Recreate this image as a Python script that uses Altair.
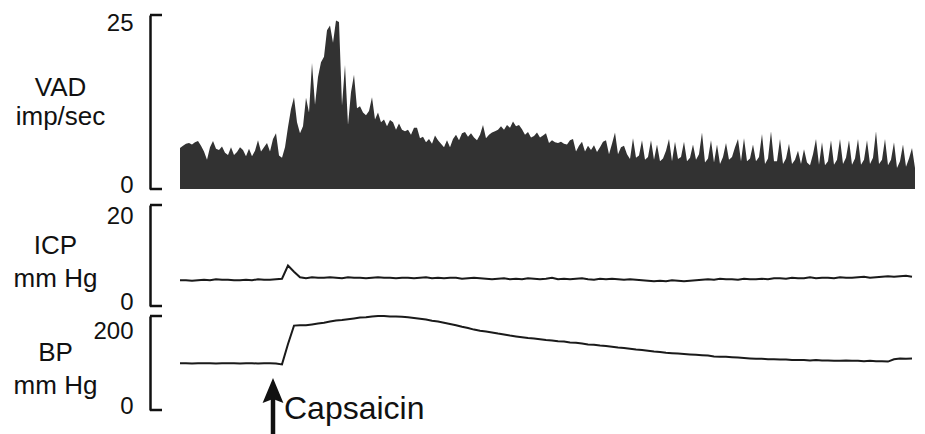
import altair as alt
import pandas as pd

FONT = "Liberation Sans"
INK = "#111111"

# ---- VAD (imp/sec), one sample per time unit ----
VAD = [
    5.9, 6.2, 6.5, 6.6, 6.4, 6.7, 6.9, 6.2, 5.4, 4.2, 6.0, 6.9, 5.8, 5.6, 6.1, 5.2, 4.9, 6.0,
    4.9, 5.3, 6.0, 5.6, 4.7, 5.8, 4.7, 5.5, 7.0, 5.4, 6.0, 6.6, 5.4, 7.2, 8.0, 4.8, 4.5,
    6.0, 8.9, 11.5, 13.2, 9.6, 8.0, 9.0, 13.1, 11.0, 18.1, 12.1, 16.1, 18.2, 19.0, 22.8, 23.5,
    21.0, 24.2, 24.0, 12.0, 17.8,
    9.2, 13.9, 16.4, 11.6, 11.9, 11.0, 10.6, 11.2, 13.2, 10.0, 11.0, 9.6, 10.0, 9.0, 9.9, 9.6,
    8.5, 9.4, 8.5, 8.3, 8.5, 7.8, 8.8, 8.8, 7.3, 7.5, 6.7, 7.2, 6.5, 7.7, 7.0, 6.5, 6.0, 7.0,
    6.0, 7.2, 7.8, 7.0, 8.0, 8.2, 7.5,
    8.0, 7.4, 7.0, 7.8, 9.2, 7.3, 7.8, 8.1, 8.3, 8.5, 9.0, 8.5, 9.2, 8.8, 9.7, 9.0, 9.2, 8.6,
    7.8, 8.2, 7.4, 7.6, 8.1, 7.4, 7.7, 8.0, 6.6, 7.0, 6.7, 6.6, 6.8, 6.5, 6.4, 7.0, 7.2, 5.4,
    6.2, 6.8, 5.4, 6.2, 5.6, 6.3, 5.3, 6.0, 6.8, 7.0, 5.0, 6.5, 8.1, 5.0, 6.0, 6.2,
    5.0, 4.3, 7.3, 4.5, 4.8, 7.0, 4.2, 4.6, 7.0, 4.2, 6.4, 4.0, 4.4, 5.5, 7.2, 4.0, 6.8, 4.3,
    4.6, 6.8, 4.0, 4.5, 6.4, 4.2, 5.0, 8.1, 3.8, 4.4, 7.0, 3.8, 6.4, 3.6, 4.6, 6.6, 4.2, 4.6,
    6.0, 7.2, 4.0, 7.3, 4.0, 4.4, 6.4, 4.0, 4.6, 7.9, 3.6, 4.4, 8.3, 4.0,
    4.0, 7.2, 3.6, 4.4, 6.5, 3.6, 4.2, 5.5, 3.6, 5.7, 3.8, 3.4, 5.0, 7.2, 3.5, 6.7, 3.4, 4.0,
    7.0, 3.5, 4.2, 7.2, 3.6, 4.5, 7.0, 3.5, 4.4, 7.2, 3.5, 4.2, 7.0, 3.6, 4.5, 8.3, 3.6, 4.2,
    7.2, 3.4, 4.2, 6.7, 3.0, 4.0, 6.4, 3.2, 4.4, 5.9, 3.0,
]

# ---- ICP and BP (mm Hg), one sample every 2 time units ----
ICP = [
    5.1, 5.1, 5.0, 5.1, 5.2, 5.1, 5.3, 5.2, 5.2, 5.1, 5.1, 5.2, 5.1, 5.3, 5.2, 5.2, 5.3,
    5.4, 8.0, 6.8, 5.7, 5.5,
    5.7, 5.6, 5.6, 5.7, 5.6, 5.5, 5.7, 5.6, 5.6, 5.5, 5.6, 5.7, 5.6, 5.6, 5.5, 5.6, 5.6, 5.5,
    5.6, 5.7, 5.5, 5.6, 5.5, 5.6, 5.6, 5.4, 5.5, 5.6, 5.5,
    5.4, 5.3, 5.4, 5.5, 5.3, 5.4, 5.3, 5.5, 5.4, 5.3, 5.4, 5.6, 5.3, 5.4, 5.3, 5.4, 5.5, 5.3,
    5.2, 5.4, 5.3, 5.4, 5.3, 5.2, 5.3, 5.2,
    5.1, 5.0, 4.9, 5.0, 4.9, 5.1, 5.0, 4.9, 5.0, 5.1,
    5.2, 5.3, 5.2, 5.4, 5.3, 5.3, 5.2, 5.4, 5.3, 5.3, 5.4, 5.3, 5.5,
    5.5, 5.4, 5.6, 5.5, 5.5, 5.7, 5.5, 5.6, 5.6, 5.5, 5.7, 5.6, 5.6, 5.7, 5.8, 5.6, 5.7, 5.8,
    5.9, 5.8, 5.9, 6.0, 5.8,
]

BP = [
    117, 117, 116, 117, 117, 117, 116, 117, 117, 117, 116, 117, 117, 116, 117, 117, 116,
    114, 165, 211, 212, 212, 214, 216, 218, 221, 224, 225, 227, 229, 231, 232, 234, 235,
    235, 234, 234, 233, 232, 230, 228, 226, 223, 221, 218, 215, 212, 208, 205, 201, 198,
    196, 194, 191, 189, 186, 184, 182, 180, 179, 177, 175, 174, 172, 171, 169, 168, 166,
    164, 163, 161, 160, 158, 156, 155, 153, 151, 150, 148, 146, 145, 143, 142, 141, 140,
    139, 138, 137, 136, 134, 133, 133, 132, 131, 130, 129, 128, 128, 127, 127, 126, 126,
    125, 125, 125, 124, 125, 124, 124, 123, 123, 124, 123, 123, 122, 123, 122, 122, 121,
    127, 129, 128, 129,
]

VAD_STEP = 1
LINE_STEP = 2
CAPSAICIN_T = 31
T_DOMAIN = [-10, 246]

VAD_DOMAIN = [0, 25]
ICP_DOMAIN = [0, 20]
BP_DOMAIN = [0, 235]
VAD_TICKS = [0, 25]
ICP_TICKS = [0, 20]
BP_TICKS = [0, 200]

vad_df = pd.DataFrame({"t": [i * VAD_STEP for i in range(len(VAD))], "v": VAD})
icp_df = pd.DataFrame({"t": [i * LINE_STEP for i in range(len(ICP))], "v": ICP})
bp_df = pd.DataFrame({"t": [i * LINE_STEP for i in range(len(BP))], "v": BP})
cap_df = pd.DataFrame({"t": [CAPSAICIN_T]})

xscale = alt.Scale(domain=T_DOMAIN, nice=False, zero=False)
X = alt.X("t:Q", scale=xscale, axis=None)


def yaxis(title, values, top_offset, title_x, title_y, line_h):
    return alt.Axis(
        values=values,
        title=title,
        titleAngle=0,
        titleAlign="center",
        titleBaseline="alphabetic",
        titleX=title_x,
        titleY=title_y,
        titleFont=FONT,
        titleFontSize=26,
        titleFontWeight="normal",
        titleLineHeight=line_h,
        titleColor=INK,
        labelFont=FONT,
        labelFontSize=24,
        labelColor=INK,
        labelPadding=17,
        labelFlush=False,
        labelOffset={"condition": {"test": "datum.value === 0", "value": -4}, "value": top_offset},
        ticks=False,
        tickSize=0,
        domain=True,
        domainColor=INK,
        domainWidth=2.5,
        grid=False,
    )


def panel(df, mark, domain, axis, height, extra=()):
    y = alt.Y("v:Q", scale=alt.Scale(domain=domain, nice=False), axis=axis)
    main = mark(alt.Chart(df)).encode(x=X, y=y)
    br = alt.Chart(pd.DataFrame({"v": domain})).mark_rule(color=INK, strokeWidth=2.5).encode(
        x=alt.value(0), x2=alt.value(12), y=y
    )
    return alt.layer(main, br, *extra).properties(width=768, height=height)


vad = panel(
    vad_df,
    lambda c: c.mark_area(color="#323232", interpolate="linear"),
    VAD_DOMAIN,
    yaxis(["VAD", "imp/sec"], VAD_TICKS, 8, -90, 80, 29),
    174,
)

icp = panel(
    icp_df,
    lambda c: c.mark_line(color="#1a1a1a", strokeWidth=2),
    ICP_DOMAIN,
    yaxis(["ICP", "mm Hg"], ICP_TICKS, 11, -95, 48, 33),
    101,
)

ARROW_HEAD = "M0,-1L0.75,0.8L0,0.5L-0.75,0.8Z"

arrow_shaft = alt.Chart(cap_df).mark_rule(color=INK, strokeWidth=4.5).encode(
    x=X, y=alt.value(72), y2=alt.value(130)
)
arrow_head = alt.Chart(cap_df).mark_point(
    shape=ARROW_HEAD, filled=True, size=772, color=INK, opacity=1, strokeWidth=0
).encode(x=X, y=alt.value(76))
arrow_text = alt.Chart(cap_df).mark_text(
    text="Capsaicin", align="left", baseline="alphabetic", dx=11,
    font=FONT, fontSize=32, color=INK
).encode(x=X, y=alt.value(103))

bp = panel(
    bp_df,
    lambda c: c.mark_line(color="#1a1a1a", strokeWidth=2),
    BP_DOMAIN,
    yaxis(["BP", "mm Hg"], BP_TICKS, 1, -95, 44, 33),
    94,
    extra=(arrow_shaft, arrow_head, arrow_text),
)

chart = alt.vconcat(
    vad,
    alt.vconcat(icp, bp, spacing=10, bounds="flush"),
    spacing=16,
    bounds="flush",
).properties(
    padding={"left": 13, "top": 11, "right": 5, "bottom": 0},
    background="white",
).configure_view(stroke=None)

chart.save("out.html", embed_options={"renderer": "svg", "actions": False})
